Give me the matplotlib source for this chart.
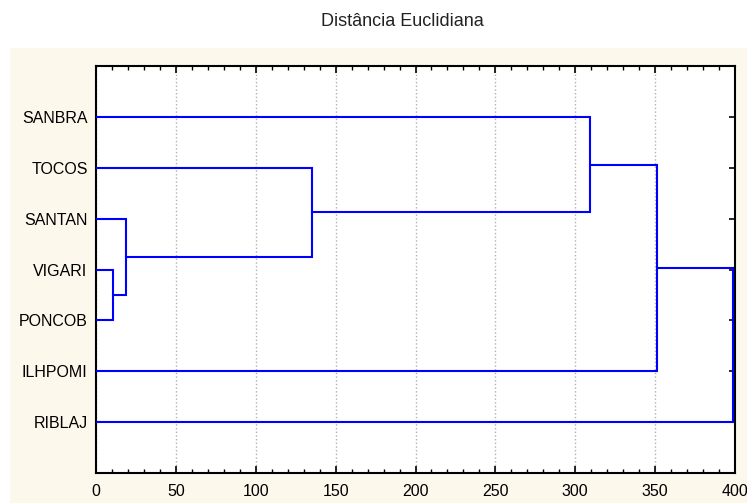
import matplotlib
matplotlib.use("Agg")
import matplotlib.pyplot as plt
from matplotlib.patches import Rectangle
from matplotlib.ticker import MultipleLocator

# leaves, top to bottom
labels = ['SANBRA', 'TOCOS', 'SANTAN', 'VIGARI', 'PONCOB', 'ILHPOMI', 'RIBLAJ']
# merges: (child a, child b, distance); children are leaf names or cluster ids c0, c1, ...
merge_a = ['VIGARI', 'SANTAN', 'TOCOS', 'SANBRA', 'c3', 'c4']
merge_b = ['PONCOB', 'c0', 'c1', 'c2', 'ILHPOMI', 'RIBLAJ']
merge_h = [10.5, 19, 135.5, 309.5, 351, 399]

fig = plt.figure(figsize=(7.47, 5.03), dpi=100)
fig.patch.set_facecolor('white')
# beige panel behind the plot
fig.add_artist(Rectangle((10 / 747, 0), 737 / 747, 1 - 48 / 503,
                         transform=fig.transFigure, facecolor='#fdf8ec',
                         edgecolor='none', zorder=-1))

ax = fig.add_axes([96 / 747, 1 - 473 / 503, 639 / 747, 407 / 503])
ax.set_facecolor('white')

# node positions: leaves at 1..n, clusters at mean of their children
pos = {name: (0.0, i + 1) for i, name in enumerate(labels)}
for i, (a, b, h) in enumerate(zip(merge_a, merge_b, merge_h)):
    xa, ya = pos[a]
    xb, yb = pos[b]
    ax.plot([xa, h, h, xb], [ya, ya, yb, yb], color='#0000ff', lw=1.5,
            solid_joinstyle='miter', zorder=3)
    pos['c%d' % i] = (h, (ya + yb) / 2)

ax.set_xlim(0, 400)
ax.set_ylim(len(labels) + 1, 0)
ax.set_yticks(range(1, len(labels) + 1))
ax.set_yticklabels(labels, fontsize=11.5, family='Liberation Sans')
ax.xaxis.set_major_locator(MultipleLocator(50))
ax.xaxis.set_minor_locator(MultipleLocator(10))
for t in ax.get_xticklabels():
    t.set_fontsize(11.5)
    t.set_family('Liberation Sans')

ax.grid(axis='x', which='major', linestyle=':', color='#b0b0b0', lw=1)
ax.tick_params(axis='x', which='major', direction='in', length=5, width=1.2,
               top=True, pad=8)
ax.tick_params(axis='x', which='minor', direction='in', length=3, width=1,
               top=True)
ax.tick_params(axis='y', direction='in', length=4, width=1.2, right=True, pad=6)
for s in ax.spines.values():
    s.set_linewidth(1.5)

fig.text(402 / 747, 1 - 22 / 503, 'Distância Euclidiana', ha='center', va='center',
         fontsize=13, family='Liberation Sans', color='#222222')

fig.savefig('out.png', dpi=100, facecolor=fig.get_facecolor())
